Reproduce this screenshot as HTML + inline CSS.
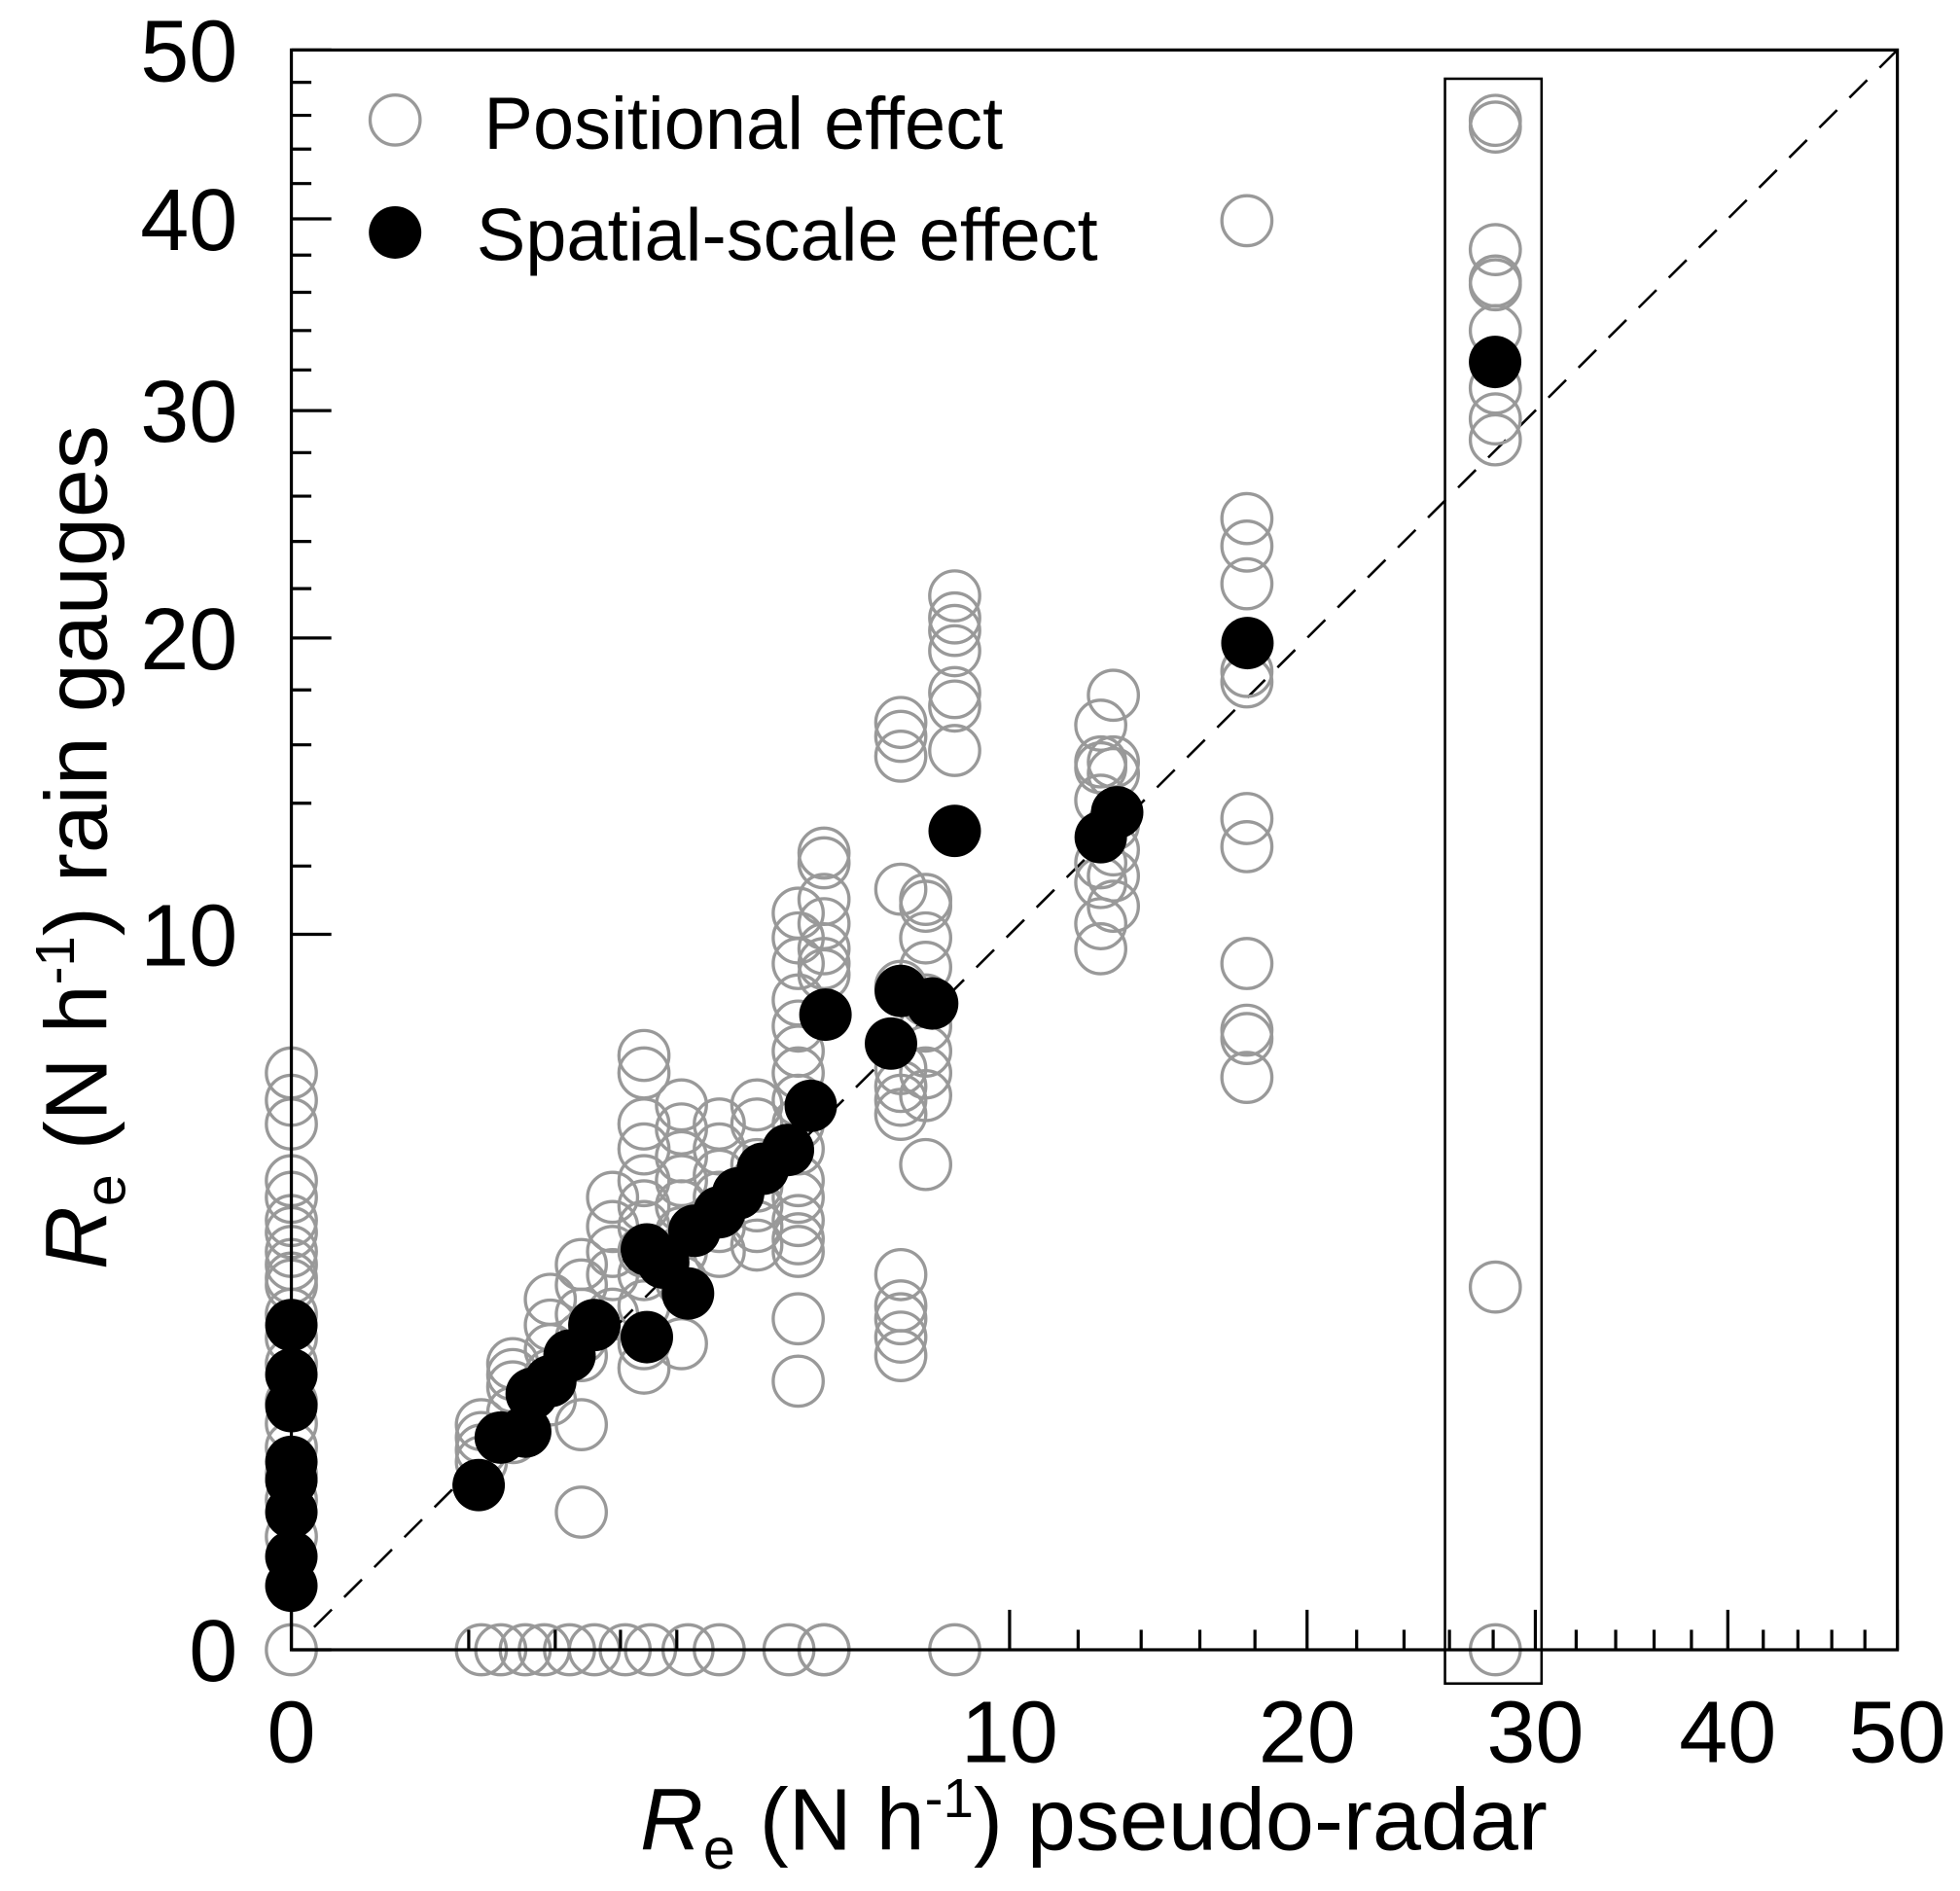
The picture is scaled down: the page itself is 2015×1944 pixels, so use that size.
<!DOCTYPE html>
<html><head><meta charset="utf-8"><style>
html,body{margin:0;padding:0;background:#fff;}
svg{display:block;font-family:"Liberation Sans",Arial,sans-serif;}
</style></head><body>
<svg id="chart" width="2015" height="1944" viewBox="0 0 1568 1513" xmlns="http://www.w3.org/2000/svg">
<rect x="0" y="0" width="1568" height="1513" fill="#fff"/>
<g id="marks"></g>
<g id="axes"></g>
<g>
<circle cx="316" cy="96" r="20" fill="none" stroke="#999" stroke-width="2.6"/>
<text x="387" y="119" font-size="59">Positional effect</text>
<circle cx="316" cy="186" r="21" fill="#000"/>
<text x="381" y="208" font-size="59">Spatial-scale effect</text>
</g>
<text x="875" y="1480" font-size="70" text-anchor="middle"><tspan font-style="italic">R</tspan><tspan font-size="46" dy="15">e</tspan><tspan dy="-15"> (N h</tspan><tspan font-size="44" dy="-26">-1</tspan><tspan dy="26">) pseudo-radar</tspan></text>
<text transform="translate(85,678) rotate(-90)" font-size="70" text-anchor="middle"><tspan font-style="italic">R</tspan><tspan font-size="46" dy="15">e</tspan><tspan dy="-15"> (N h</tspan><tspan font-size="44" dy="-26">-1</tspan><tspan dy="26">) rain gauges</tspan></text>
</svg>
<script>
const majorTicks=[0,10,20,30,40,50];
const minorTicksY=[12,14,16,18,22,24,26,28,32,34,36,38,42,44,46,48];
const minorTicksX=[0.61,1.35,2.1,2.88,12,14,16,18,22,24,26,28,32,34,36,38,42,44,46,48];
const boxRange=[25.8,30.3];
const spatialX=[0,0,0,0,0,0,0,0,0.68,0.85,1.06,1.12,1.30,1.50,1.78,2.45,2.45,2.68,3.05,3.15,3.55,3.87,4.31,4.78,5.23,5.53,6.97,7.20,7.96,8.53,12.70,13.22,17.72,28.09];
const spatialY=[2.06,1.48,1.16,0.69,0.56,0.37,0.17,0.08,0.53,0.88,0.93,1.28,1.41,1.69,2.06,1.91,3.13,2.93,2.48,3.43,3.74,4.07,4.52,4.88,5.78,7.88,7.18,8.48,8.16,13.1,12.9,13.7,19.8,32.4];
const positionalX=[
0,0,0,0,0,0,0,0,0,0,0,0,0,0,0,0,0,0,0,0,0,
28.1,28.1,28.1,28.1,28.1,28.1,28.1,28.1,28.1,28.1,28.1,
17.7,17.7,17.7,17.7,17.7,17.7,17.7,17.7,17.7,17.7,17.7,17.7,
12.7,12.7,12.7,12.7,12.7,12.7,12.7,12.7,
13.1,13.1,13.1,13.1,13.1,13.1,13.1,
8.53,8.53,8.53,8.53,8.53,8.53,8.53,8.53,
7.8,7.8,7.8,7.8,7.8,7.8,7.8,7.8,7.8,7.8,
7.2,7.2,7.2,7.2,7.2,7.2,7.2,7.2,7.2,7.2,7.2,7.2,7.2,7.2,
5.5,5.5,5.5,5.5,5.5,5.5,5.5,5.5,
4.98,4.98,4.98,4.98,4.98,4.98,4.98,4.98,4.98,4.98,4.98,4.98,4.98,4.98,4.98,4.98,4.98,
4.2,4.2,4.2,4.2,4.2,4.2,4.2,
3.55,3.55,3.55,3.55,3.55,3.55,
2.95,2.95,2.95,2.95,2.95,2.95,2.95,2.95,2.95,
2.41,2.41,2.41,2.41,2.41,2.41,2.41,2.41,2.41,2.41,2.41,2.41,
2.0,2.0,2.0,2.0,2.0,
1.63,1.63,1.63,1.63,1.63,1.63,1.63,
1.30,1.30,1.30,1.30,1.30,
0.95,0.95,0.95,0.95,0.95,
0.70,0.70,0.70,0.70,
0.70,0.85,1.06,1.24,1.50,1.78,2.16,2.50,3.05,3.55,4.8,5.5];
const positionalY=[
6.5,5.9,5.4,4.3,4.0,3.6,3.4,3.1,2.9,2.7,2.6,2.2,1.9,1.6,1.2,1.0,0.8,0.6,0.44,0.25,0,
45.7,45.3,38.3,36.6,36.4,34.0,31.1,29.6,28.6,2.57,0,
39.9,25.0,23.8,22.2,18.7,18.3,13.5,12.6,9.2,7.5,7.3,6.4,
16.7,15.4,15.2,14.1,12.1,11.5,10.3,9.6,
17.8,15.4,15.0,13.3,12.5,11.7,10.8,
21.7,20.8,20.3,19.5,17.9,17.4,15.8,0,
11.0,10.8,9.9,9.1,8.25,7.6,7.0,6.5,6.0,4.6,
16.8,16.3,15.6,11.3,8.6,6.6,6.2,5.9,5.6,2.75,2.31,2.14,1.91,1.69,
12.4,12.1,11.0,10.3,9.6,9.2,8.9,0,
10.6,9.9,9.2,8.25,7.6,7.0,6.5,5.9,5.4,4.9,4.3,4.0,3.6,3.3,3.1,2.14,1.41,
5.8,5.4,4.6,4.2,3.85,3.5,3.2,
5.4,4.9,4.4,4.0,3.5,3.1,
5.8,5.3,4.75,4.3,3.85,3.4,3.1,2.65,1.83,
6.9,6.5,5.4,4.9,4.3,3.85,3.5,3.1,2.75,2.31,1.83,1.55,
4.0,3.5,3.1,2.75,2.2,
2.9,2.6,2.2,1.9,1.69,0.99,0.37,
2.4,2.06,1.76,1.48,1.22,
1.6,1.48,1.35,1.10,0.88,
0.99,0.88,0.78,0.69,
0,0,0,0,0,0,0,0,0,0,0,0];

const X0=233,X1=1518,Y0=1320,Y1=40;
const sx=v=>X0+(X1-X0)*Math.sqrt(v)/Math.sqrt(50);
const sy=v=>Y0-(Y0-Y1)*Math.sqrt(v)/Math.sqrt(50);
const NS="http://www.w3.org/2000/svg";
function mk(tag,attrs,parent){const e=document.createElementNS(NS,tag);for(const k in attrs)e.setAttribute(k,attrs[k]);parent.appendChild(e);return e;}
const marks=document.getElementById('marks');
const axes=document.getElementById('axes');

const box=mk('rect',{x:sx(boxRange[0]),y:63,width:sx(boxRange[1])-sx(boxRange[0]),height:1347-63,fill:'none',stroke:'#000','stroke-width':2},axes);



const diag=mk('line',{x1:sx(0.01),y1:sy(0.01),x2:sx(50),y2:sy(50),stroke:'#000','stroke-width':2,'stroke-dasharray':'20,14'},marks);



for(let i=0;i<positionalX.length;i++){
  const c=mk('circle',{cx:sx(positionalX[i]),cy:sy(positionalY[i]),r:20,fill:'none',stroke:'#999','stroke-width':2.6},marks);
  
  
}
for(let i=0;i<spatialX.length;i++){
  const c=mk('circle',{cx:sx(spatialX[i]),cy:sy(spatialY[i]),r:21,fill:'#000'},marks);
  
  
}

const frame=mk('rect',{x:X0,y:Y1,width:X1-X0,height:Y0-Y1,fill:'none',stroke:'#000','stroke-width':2.5},axes);



majorTicks.forEach(v=>{
  const ty=mk('line',{x1:X0,x2:X0+32,y1:sy(v),y2:sy(v),stroke:'#000','stroke-width':2.5},axes);
  
  
  const ly=mk('text',{x:190,y:sy(v)+25,'font-size':70,'text-anchor':'end'},axes);
  ly.textContent=v;
  
  
  const tx=mk('line',{x1:sx(v),x2:sx(v),y1:Y0,y2:Y0-32,stroke:'#000','stroke-width':2.5},axes);
  
  
  const lx=mk('text',{x:sx(v),y:1410,'font-size':70,'text-anchor':'middle'},axes);
  lx.textContent=v;
  
  
});
minorTicksY.forEach(v=>{
  const t=mk('line',{x1:X0,x2:X0+16,y1:sy(v),y2:sy(v),stroke:'#000','stroke-width':2.5},axes);
  
  
});
minorTicksX.forEach(v=>{
  const t=mk('line',{x1:sx(v),x2:sx(v),y1:Y0,y2:Y0-16,stroke:'#000','stroke-width':2.5},axes);
  
  
});
</script>
</body></html>
